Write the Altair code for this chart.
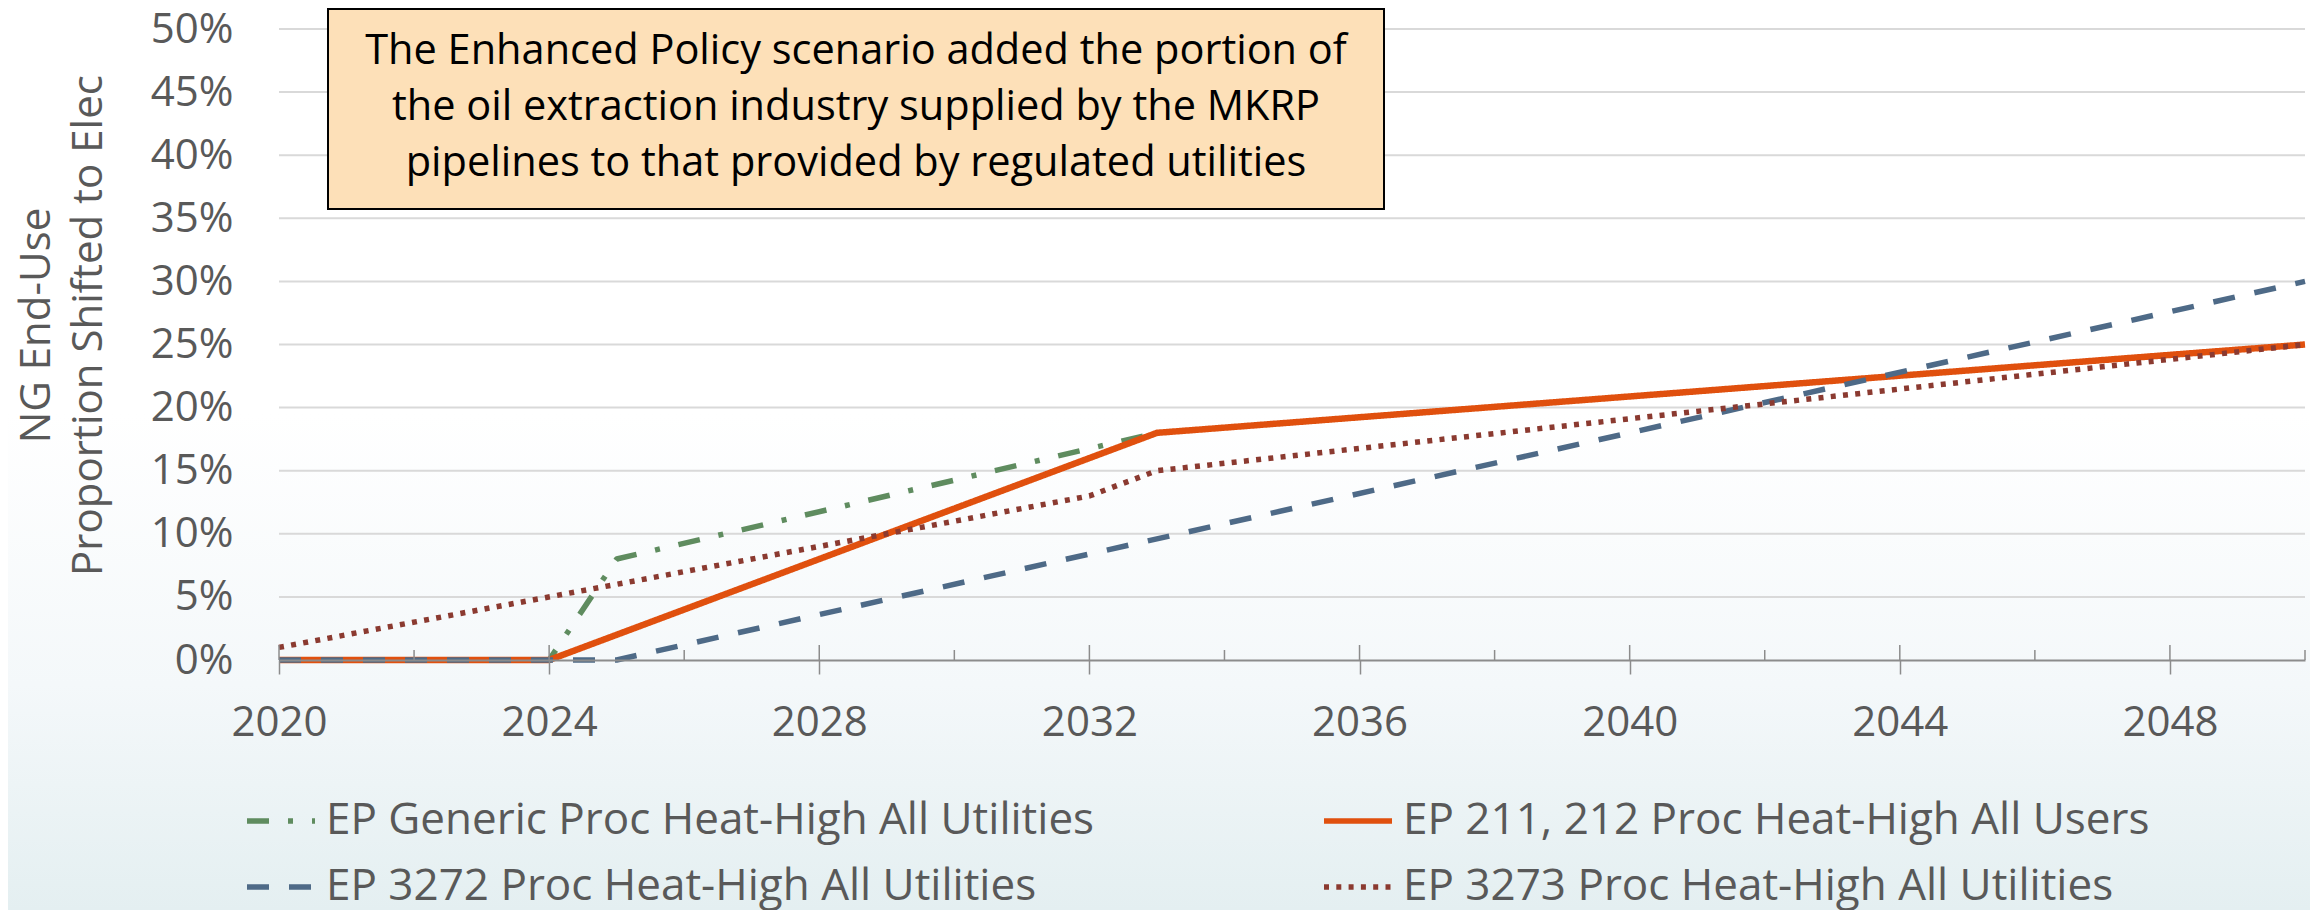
import altair as alt
import pandas as pd

# ---------------- data ----------------
SERIES = [
    "EP Generic Proc Heat-High All Utilities",
    "EP 211, 212 Proc Heat-High All Users",
    "EP 3272 Proc Heat-High All Utilities",
    "EP 3273 Proc Heat-High All Utilities",
]
GENERIC_YEARS = [2020, 2024, 2025, 2033]
GENERIC_VALS = [0, 0, 8, 18]
P211_YEARS = [2020, 2024, 2033, 2050]
P211_VALS = [0, 0, 18, 25]
P3272_YEARS = [2020, 2025, 2050]
P3272_VALS = [0, 0, 30]
P3273_YEARS = [2020, 2032, 2033, 2050]
P3273_VALS = [1, 13, 15, 25]

Y_TICKS = [0, 5, 10, 15, 20, 25, 30, 35, 40, 45, 50]
GRID_VALUES = [5, 10, 15, 20, 25, 30, 35, 40, 45, 50]
MAJOR_YEARS = [2020, 2024, 2028, 2032, 2036, 2040, 2044, 2048]
MINOR_YEARS = [2022, 2026, 2030, 2034, 2038, 2042, 2046, 2050]

ANNOTATION = [
    "The Enhanced Policy scenario added the portion of",
    "the oil extraction industry supplied by the MKRP",
    "pipelines to that provided by regulated utilities",
]
Y_TITLE = ["NG End-Use", "Proportion Shifted to Elec"]

# ---------------- styles ----------------
COLORS = ["#5f8c5f", "#e0500e", "#4e6a87", "#8b3a30"]
DASHES = [[22, 19, 5, 19], [1, 0], [22, 20], [5, 7.3]]
WIDTHS = [5.5, 6.5, 5.5, 5.5]
FONT = "Open Sans"
GRAY = "#595959"
AXIS_GRAY = "#8c8c8c"

W, H = 2026, 631
PAD_L, PAD_T, PAD_R, PAD_B = 271, 21, 5, 250

rows = []
for name, ys, vs in zip(SERIES,
                        [GENERIC_YEARS, P211_YEARS, P3272_YEARS, P3273_YEARS],
                        [GENERIC_VALS, P211_VALS, P3272_VALS, P3273_VALS]):
    for y, v in zip(ys, vs):
        rows.append({"series": name, "year": y, "value": v})
df = pd.DataFrame(rows)

xscale = alt.Scale(domain=[2020, 2050], nice=False, zero=False)
yscale = alt.Scale(domain=[0, 50], nice=False, zero=True)

x_axis = alt.Axis(
    values=MAJOR_YEARS, format="d", title=None, grid=False, zindex=1,
    domain=True, domainColor=AXIS_GRAY, domainWidth=2,
    ticks=True, tickSize=14, tickColor=AXIS_GRAY, tickWidth=1.5,
    labelFont=FONT, labelFontSize=42, labelColor=GRAY,
    labelBaseline="alphabetic", labelPadding=61, labelFlush=False,
)
y_axis = alt.Axis(
    values=Y_TICKS, labelExpr="datum.value + '%'", grid=False, zindex=1,
    domain=False, ticks=False, labelPadding=46,
    labelFont=FONT, labelFontSize=42, labelColor=GRAY,
    title=Y_TITLE, titleFont=FONT, titleFontSize=42, titleFontWeight="normal",
    titleColor=GRAY, titleX=-230, titleY=296, titleAlign="center",
    titleBaseline="alphabetic", titleLineHeight=52, titleAngle=270,
)
legend = alt.Legend(
    title=None, orient="none", direction="horizontal", legendX=-35, legendY=755,
    columns=2, columnPadding=218, rowPadding=7, symbolType="stroke",
    symbolSize=4624, symbolStrokeWidth=5.5,
    labelFont=FONT, labelFontSize=44, labelColor=GRAY, labelOffset=8,
    padding=0, labelLimit=0,
)

# background gradient
bg = alt.Chart(alt.Data(values=[{}])).mark_rect(
    fill=alt.LinearGradient(
        gradient="linear", x1=0, x2=0, y1=0, y2=1,
        stops=[alt.GradientStop(offset=0, color="#ffffff"),
               alt.GradientStop(offset=0.45, color="#ffffff"),
               alt.GradientStop(offset=0.75, color="#f4f8fa"),
               alt.GradientStop(offset=1, color="#e4eff1")]),
).encode(
    x=alt.value(-PAD_L), x2=alt.value(W + PAD_R),
    y=alt.value(-PAD_T), y2=alt.value(H + PAD_B),
)

grid = alt.Chart(pd.DataFrame({"g": GRID_VALUES})).mark_rule(
    color="#d9d9d9", strokeWidth=2
).encode(
    y=alt.Y("g:Q", scale=yscale, axis=y_axis),
    x=alt.value(0), x2=alt.value(W),
)

major_up = alt.Chart(pd.DataFrame({"year": MAJOR_YEARS})).mark_rule(
    color=AXIS_GRAY, strokeWidth=1.5
).encode(
    x=alt.X("year:Q", scale=xscale, axis=x_axis),
    y=alt.value(H), y2=alt.value(H - 15),
)
minor_up = alt.Chart(pd.DataFrame({"year": MINOR_YEARS})).mark_rule(
    color=AXIS_GRAY, strokeWidth=1.5
).encode(
    x=alt.X("year:Q", scale=xscale, axis=x_axis),
    y=alt.value(H), y2=alt.value(H - 10),
)

enc_color = alt.Color("series:N", scale=alt.Scale(domain=SERIES, range=COLORS), legend=legend)
enc_dash = alt.StrokeDash("series:N", scale=alt.Scale(domain=SERIES, range=DASHES), legend=legend)

line_layers = []
for name, width in zip(SERIES, WIDTHS):
    layer = alt.Chart(df).transform_filter(
        alt.datum.series == name
    ).mark_line(strokeCap="butt", strokeJoin="round", strokeWidth=width).encode(
        x=alt.X("year:Q", scale=xscale, axis=x_axis),
        y=alt.Y("value:Q", scale=yscale, axis=y_axis),
        color=enc_color, strokeDash=enc_dash,
        order="year:Q",
    )
    line_layers.append(layer)

box = alt.Chart(alt.Data(values=[{}])).mark_rect(
    fill="#fde0b8", stroke="#000000", strokeWidth=2
).encode(
    x=alt.value(49), x2=alt.value(1105), y=alt.value(-20), y2=alt.value(180),
)
box_text = alt.Chart(alt.Data(values=[{}])).mark_text(
    text=ANNOTATION, font=FONT, fontSize=41.5, lineHeight=56, color="#000000",
    align="center", baseline="alphabetic",
).encode(x=alt.value(577), y=alt.value(35))

chart = alt.layer(bg, grid, *line_layers, major_up, minor_up, box, box_text).properties(
    width=W, height=H,
    autosize=alt.AutoSizeParams(type="none"),
    padding={"left": PAD_L, "top": PAD_T, "right": PAD_R, "bottom": PAD_B},
).configure_view(stroke=None).configure(background="white")

chart.save("out.html", embed_options={"renderer": "svg", "actions": False})
